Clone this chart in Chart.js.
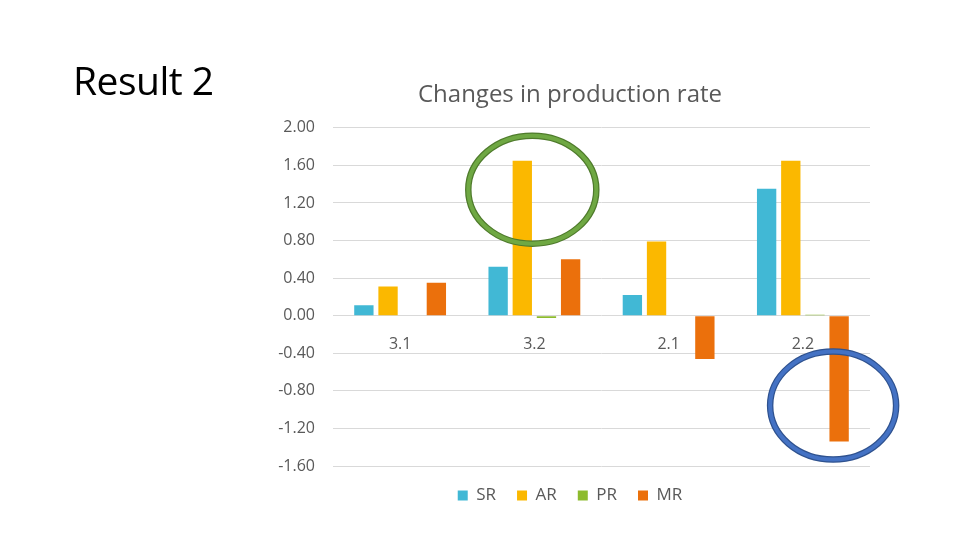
<!DOCTYPE html>
<html>
<head>
<meta charset="utf-8">
<script src="https://cdn.jsdelivr.net/npm/chart.js@4.4.1/dist/chart.umd.min.js"></script>
<style>
  html, body { margin: 0; padding: 0; background: #fff; }
  #slide { position: relative; width: 960px; height: 540px; overflow: hidden; }
  #heading {
    position: absolute; left: 73px; top: 60px;
    font-family: "Open Sans", sans-serif; font-size: 39px; line-height: 1;
    color: #000; letter-spacing: -0.5px;
  }
  #wrap { position: absolute; left: 0; top: 0; width: 960px; height: 540px; }
</style>
</head>
<body>
<div id="slide">
  <div id="wrap"><canvas id="chart"></canvas></div>
  <div id="heading">Result 2</div>
</div>
<script>
// categories and series
const categories = ["3.1", "3.2", "2.1", "2.2"];
const srValues = [0.11, 0.52, 0.22, 1.35];
const arValues = [0.31, 1.65, 0.79, 1.65];
const prValues = [-0.005, -0.025, -0.005, 0.01];
const mrValues = [0.35, 0.60, -0.46, -1.34];
const seriesNames = ["SR", "AR", "PR", "MR"];
const seriesColors = ["#41B8D5", "#FBB800", "#8DBB2E", "#EB700C"];

// hand-drawn rings on the slide, anchored to a bar: [datasetIndex, categoryIndex, dx, dy, rx, ry, outer, inner]
const rings = [
  [1, 1, 10, 29, 64, 54, "#4F7B2C", "#6FA843"],
  [3, 3, -6, -36, 63, 54, "#2F528F", "#4472C4"]
];

const txt = "#595959";
const font = "'Open Sans', sans-serif";

const ringPlugin = {
  id: "rings",
  afterDatasetsDraw(chart) {
    const ctx = chart.ctx;
    rings.forEach(r => {
      const bar = chart.getDatasetMeta(r[0]).data[r[1]];
      const cx = bar.x + r[2];
      const cy = bar.y + r[3];
      ctx.save();
      ctx.beginPath();
      ctx.ellipse(cx, cy, r[4], r[5], 0, 0, Math.PI * 2);
      ctx.strokeStyle = r[6];
      ctx.lineWidth = 6.5;
      ctx.stroke();
      ctx.beginPath();
      ctx.ellipse(cx, cy, r[4], r[5], 0, 0, Math.PI * 2);
      ctx.strokeStyle = r[7];
      ctx.lineWidth = 4;
      ctx.stroke();
      ctx.restore();
    });
  }
};

const allValues = [srValues, arValues, prValues, mrValues];

new Chart(document.getElementById("chart"), {
  type: "bar",
  data: {
    labels: categories,
    datasets: allValues.map((vals, i) => ({
      label: seriesNames[i],
      data: vals,
      backgroundColor: seriesColors[i],
      borderWidth: 0,
      categoryPercentage: 0.72,
      barPercentage: 0.8
    }))
  },
  options: {
    responsive: true,
    maintainAspectRatio: false,
    animation: false,
    layout: { padding: { left: 270, right: 90, top: 81, bottom: 26 } },
    plugins: {
      title: {
        display: true,
        text: "Changes in production rate",
        color: txt,
        font: { family: font, size: 24, weight: "normal" },
        padding: { top: 0, bottom: 18 }
      },
      legend: {
        position: "bottom",
        labels: {
          color: txt,
          font: { family: font, size: 17 },
          boxWidth: 10,
          boxHeight: 10,
          padding: 21
        }
      },
      tooltip: { enabled: false }
    },
    scales: {
      x: {
        position: { y: 0 },
        grid: { display: false, drawTicks: false },
        border: { display: false },
        ticks: { color: txt, font: { family: font, size: 16 }, padding: 19 }
      },
      y: {
        min: -1.6,
        max: 2.0,
        afterFit(scale) { scale.width = 63; },
        grid: { color: "#D9D9D9", drawTicks: false },
        border: { display: false },
        ticks: {
          stepSize: 0.4,
          color: txt,
          padding: 18,
          font: { family: font, size: 16 },
          callback: v => v.toFixed(2)
        }
      }
    }
  },
  plugins: [ringPlugin]
});
</script>
</body>
</html>
